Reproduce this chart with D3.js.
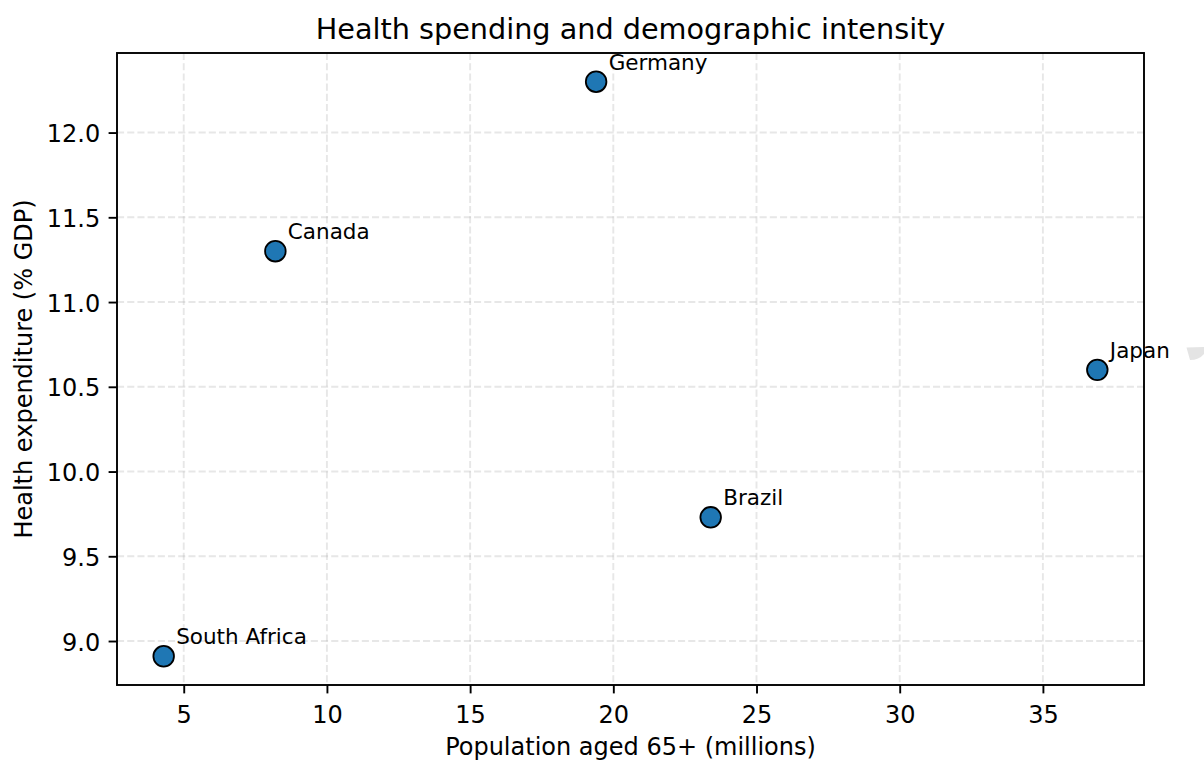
<!DOCTYPE html>
<html>
<head>
<meta charset="utf-8">
<script src="https://cdn.jsdelivr.net/npm/d3@7"></script>
<style>
  html, body { margin: 0; padding: 0; background: #fff; }
  svg { display: block; font-family: "DejaVu Sans", sans-serif; }
</style>
</head>
<body>
<svg id="chart" width="1204" height="762"></svg>
<script>
// Country data: population aged 65+ (millions) vs. health expenditure (% of GDP)
const countries = ["South Africa", "Canada", "Germany", "Brazil", "Japan"];
const pop65 = [4.3, 8.2, 19.4, 23.4, 36.9];
const healthExp = [8.91, 11.3, 12.3, 9.73, 10.6];

const xTicks = [5, 10, 15, 20, 25, 30, 35];
const yTicks = [9.0, 9.5, 10.0, 10.5, 11.0, 11.5, 12.0];

const titleText = "Health spending and demographic intensity";
const xLabel = "Population aged 65+ (millions)";
const yLabel = "Health expenditure (% GDP)";

const plot = { left: 117, right: 1144, top: 53, bottom: 685 };

const svg = d3.select("#chart");

// 5% padding around the data extent on each axis
function padded(values) {
  const [lo, hi] = d3.extent(values);
  const p = (hi - lo) * 0.05;
  return [lo - p, hi + p];
}

const x = d3.scaleLinear().domain(padded(pop65)).range([plot.left, plot.right]);
const y = d3.scaleLinear().domain(padded(healthExp)).range([plot.bottom, plot.top]);

const points = countries.map((c, i) => ({ name: c, x: pop65[i], y: healthExp[i] }));

// Dashed grid
const grid = svg.append("g").attr("class", "grid");
grid.selectAll("line.gx").data(xTicks).join("line")
  .attr("x1", d => x(d)).attr("x2", d => x(d))
  .attr("y1", plot.top).attr("y2", plot.bottom)
  .attr("stroke", "#b0b0b0").attr("stroke-opacity", 0.3)
  .attr("stroke-width", 1.9).attr("stroke-dasharray", "7.1,3.1");
grid.selectAll("line.gy").data(yTicks).join("line")
  .attr("x1", plot.left).attr("x2", plot.right)
  .attr("y1", d => y(d)).attr("y2", d => y(d))
  .attr("stroke", "#b0b0b0").attr("stroke-opacity", 0.3)
  .attr("stroke-width", 1.9).attr("stroke-dasharray", "7.1,3.1");

// Axes
const xAxis = d3.axisBottom(x).tickValues(xTicks).tickFormat(d3.format("d"))
  .tickSize(8.4).tickPadding(8.4);
const yAxis = d3.axisLeft(y).tickValues(yTicks).tickFormat(d3.format(".1f"))
  .tickSize(8.4).tickPadding(8.4);

const gx = svg.append("g").attr("transform", `translate(0,${plot.bottom})`).call(xAxis);
const gy = svg.append("g").attr("transform", `translate(${plot.left},0)`).call(yAxis);

[gx, gy].forEach(g => {
  g.select(".domain").remove();
  g.selectAll(".tick line").attr("stroke", "#000").attr("stroke-width", 1.9);
  g.selectAll(".tick text")
    .attr("fill", "#000")
    .attr("font-size", 24)
    .attr("font-family", "DejaVu Sans, sans-serif");
});
gx.selectAll(".tick text").attr("dy", null).attr("y", 38);
gy.selectAll(".tick text").attr("dy", "0.38em");

// Frame
svg.append("rect")
  .attr("x", plot.left).attr("y", plot.top)
  .attr("width", plot.right - plot.left).attr("height", plot.bottom - plot.top)
  .attr("fill", "none").attr("stroke", "#000").attr("stroke-width", 1.9);

// Points
svg.append("g").selectAll("circle").data(points).join("circle")
  .attr("cx", d => x(d.x)).attr("cy", d => y(d.y))
  .attr("r", 10.3)
  .attr("fill", "#1f77b4")
  .attr("stroke", "#000").attr("stroke-width", 1.8);

// Country labels, offset up and to the right of each point
svg.append("g").selectAll("text").data(points).join("text")
  .attr("x", d => x(d.x) + 12.5).attr("y", d => y(d.y) - 12)
  .attr("font-size", 21.5)
  .attr("fill", "#000")
  .text(d => d.name);

// Title and axis labels
svg.append("text")
  .attr("x", (plot.left + plot.right) / 2).attr("y", 39)
  .attr("text-anchor", "middle").attr("font-size", 28.7).attr("fill", "#000")
  .text(titleText);

svg.append("text")
  .attr("x", (plot.left + plot.right) / 2).attr("y", 755)
  .attr("text-anchor", "middle").attr("font-size", 24).attr("fill", "#000")
  .text(xLabel);

svg.append("text")
  .attr("transform", `translate(32,${(plot.top + plot.bottom) / 2}) rotate(-90)`)
  .attr("text-anchor", "middle").attr("font-size", 24).attr("fill", "#000")
  .text(yLabel);

// Small grey shape at the right edge
svg.append("path")
  .attr("d", "M1186.5,347.5 L1204,347 L1204,354 Q1199,360 1190,360 Z")
  .attr("fill", "#e4e4e4");
</script>
</body>
</html>
